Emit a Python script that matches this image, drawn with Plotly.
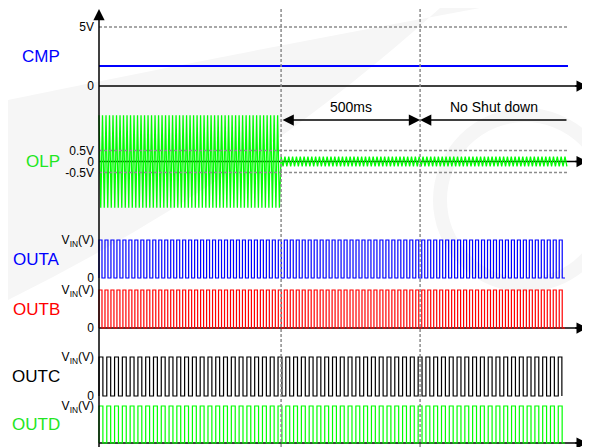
import numpy as np
import plotly.graph_objects as go

# page body has an 8px default margin; the figure is sized so it fills the window exactly
OFF = 8
W, H = 590 - OFF, 447 - OFF

# ---------------- data (time in ms, voltages) ----------------
fault_end_ms = 655          # OLP fault removed
check_ms = 1155             # 500 ms later
trace_end_ms = 1687
axis_end_ms = 1758

cmp_level = 1.69            # V (5V reference shown)
cmp_ref = 5.0

olp_fault_amp = 2.1         # V, large oscillation during fault
olp_normal_amp = 0.22       # V, small oscillation after fault
olp_period = [12.6, 13.8]   # ms, oscillation periods (fault / normal)
olp_limits = [0.5, -0.5]

out_names = ["OUTA", "OUTB", "OUTC", "OUTD"]
out_colors = ["#0000ff", "#ff0000", "#000000", "#00ff00"]
label_colors = ["#0000ff", "#ff0000", "#000000", "#22e622"]
out_periods = [21.5, 21.5, 28.0, 28.0]   # ms
out_ends = [1676, 1676, 1665, 1676]

tick_vin = "V<sub>IN</sub>(V)"

# ---------------- layout helpers (window pixel coordinates) ----------------
PX0 = 99            # window pixel x of time zero
PX_PER_MS = 0.278


def t_of_px(px):
    return (px - PX0) / PX_PER_MS


def paper_x(px):
    return (px - OFF) / W


def paper_y(px):
    return 1 - (px - OFF) / H


def row(px_zero, px_top, vtop, pad_top, pad_bot):
    scale = (px_zero - px_top) / vtop
    dom = [max(0, paper_y(px_zero + pad_bot)), min(1, paper_y(px_top - pad_top))]
    rng = [-pad_bot / scale, vtop + pad_top / scale]
    return dom, rng


rows = {
    "y": row(86, 27, 5, 18, 3),
    "y2": row(161.5, 150.5, 0.5, 50, 50),
    "y3": row(278, 240, 1, 3, 3),
    "y4": row(328, 290, 1, 3, 3),
    "y5": row(396, 357, 1, 3, 3),
    "y6": row(443, 406, 1, 3, 3),
}

fig = go.Figure()

# CMP
fig.add_trace(go.Scatter(x=[0, trace_end_ms], y=[cmp_level, cmp_level], mode="lines",
                         line=dict(color="#0000ff", width=2), yaxis="y", hoverinfo="skip"))


# OLP oscillation
def zigzag(t0, t1, period, amp):
    xs = np.arange(t0, t1, period / 2)
    ys = np.where(np.arange(len(xs)) % 2 == 0, amp, -amp)
    return xs, ys


x1, y1 = zigzag(0, fault_end_ms, olp_period[0], olp_fault_amp)
x2, y2 = zigzag(fault_end_ms, trace_end_ms, olp_period[1], olp_normal_amp)
fig.add_trace(go.Scatter(x=np.concatenate([x1, x2]), y=np.concatenate([y1, y2]), mode="lines",
                         line=dict(color="#00ff00", width=1.3), yaxis="y2", hoverinfo="skip"))

# Output pulses
for i, name in enumerate(out_names):
    edges = np.arange(0, out_ends[i], out_periods[i] / 2)
    lv = np.where(np.arange(len(edges)) % 2 == 0, 1, 0)
    xs = np.concatenate([[0], edges, [out_ends[i]]])
    ys = np.concatenate([[0], lv, [0]])
    fig.add_trace(go.Scatter(x=xs, y=ys, mode="lines", line=dict(color=out_colors[i], width=1.2, shape="hv"),
                             yaxis="y%d" % (i + 3), hoverinfo="skip"))

shapes = []
annos = []
grey = "#8c8c8c"
dash = "3px,2px"
ARW = dict(showarrow=True, arrowhead=2, arrowsize=1.5, arrowwidth=1.5, arrowcolor="black", text="")

# faint watermark background (light grey swoosh and circle)
shapes.append(dict(type="path", xref="paper", yref="paper", layer="below", line=dict(width=0),
                   fillcolor="#f6f6f6",
                   path="M 0 %f L 0 %f Q %f %f %f 1 L %f 1 Q %f %f 0 %f Z" % (
                       paper_y(300), paper_y(300), paper_x(250), paper_y(180), paper_x(440), paper_x(480),
                       paper_x(200), paper_y(60), paper_y(100))))
shapes.append(dict(type="circle", xref="paper", yref="paper", layer="below",
                   x0=paper_x(440), x1=paper_x(610), y0=paper_y(285), y1=paper_y(115),
                   line=dict(color="#f6f6f6", width=14), fillcolor="rgba(0,0,0,0)"))

# reference dashed lines
shapes.append(dict(type="line", xref="x", yref="y", x0=0, x1=trace_end_ms, y0=cmp_ref, y1=cmp_ref,
                   line=dict(color=grey, width=1.5, dash=dash)))
for v in olp_limits:
    shapes.append(dict(type="line", xref="x", yref="y2", x0=0, x1=trace_end_ms, y0=v, y1=v,
                       line=dict(color=grey, width=1.5, dash=dash)))
for t in [fault_end_ms, check_ms]:
    shapes.append(dict(type="line", xref="x", yref="paper", x0=t, x1=t, y0=0, y1=1,
                       line=dict(color=grey, width=1.5, dash=dash)))

# axes lines
shapes.append(dict(type="line", xref="x", yref="paper", x0=0, x1=0, y0=0, y1=paper_y(16),
                   line=dict(color="black", width=1.5)))
annos.append(dict(x=0, xref="x", y=paper_y(9), yref="paper", ax=0, ay=12, axref="pixel", ayref="pixel", **ARW))
for ya in ["y", "y2", "y4", "y6"]:
    shapes.append(dict(type="line", xref="x", yref=ya, x0=0, x1=axis_end_ms - 25, y0=0, y1=0,
                       line=dict(color="black", width=1.5), layer="below"))
    annos.append(dict(x=axis_end_ms, xref="x", y=0, yref=ya, ax=-14, ay=0, axref="pixel", ayref="pixel", **ARW))

# timing arrows
annos.append(dict(x=check_ms, xref="x", y=paper_y(120), yref="paper", ax=fault_end_ms, axref="x",
                  ay=0, ayref="pixel", arrowside="end+start", **ARW))
annos.append(dict(x=check_ms, xref="x", y=paper_y(120), yref="paper", ax=trace_end_ms, axref="x",
                  ay=0, ayref="pixel", arrowside="end", **ARW))
annos.append(dict(x=(fault_end_ms + check_ms) / 2, xref="x", y=paper_y(117), yref="paper", yanchor="bottom",
                  text="500ms", showarrow=False, font=dict(size=14, color="black")))
annos.append(dict(x=t_of_px(494), xref="x", y=paper_y(117), yref="paper", yanchor="bottom",
                  text="No Shut down", showarrow=False, font=dict(size=14, color="black")))

# signal names
names = [("CMP", "y", 2.5, "#0000ff"), ("OLP", "y2", 0, "#22e622")]
names += [(n, "y%d" % (i + 3), 0.5, label_colors[i]) for i, n in enumerate(out_names)]
for n, ya, yv, c in names:
    annos.append(dict(x=paper_x(62), xref="paper", y=yv, yref=ya, text=n, xanchor="right", showarrow=False,
                      font=dict(size=17, color=c)))

layout = dict(
    template="none",
    width=W, height=H, margin=dict(l=0, r=0, t=0, b=0, pad=0, autoexpand=False),
    paper_bgcolor="white", plot_bgcolor="rgba(0,0,0,0)", showlegend=False,
    font=dict(family="Arial, Liberation Sans, sans-serif", color="black"),
    xaxis=dict(range=[t_of_px(OFF), t_of_px(OFF + W)], visible=False, anchor="y6", automargin=False,
               domain=[0, 1]),
    shapes=shapes, annotations=annos,
)
ticks = {
    "y": ([0, 5], ["0", "5V"]),
    "y2": ([-0.5, 0, 0.5], ["-0.5V", "0", "0.5V"]),
}
for k in ["y3", "y4", "y5", "y6"]:
    ticks[k] = ([0, 1], ["0", tick_vin])
for k, (dom, rng) in rows.items():
    name = "yaxis" if k == "y" else "yaxis" + k[1:]
    layout[name] = dict(domain=dom, range=rng, anchor="free", position=paper_x(PX0), showgrid=False,
                        zeroline=False, showline=False, ticks="", tickvals=ticks[k][0],
                        ticktext=ticks[k][1], tickfont=dict(size=12, color="black"), fixedrange=True,
                        automargin=False, ticklabelstandoff=5)
fig.update_layout(**layout)
fig.write_html("out.html")
